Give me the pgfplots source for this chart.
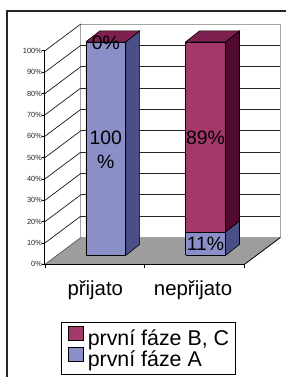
\documentclass[border=0pt]{standalone}
\usepackage{fontspec}
\setmainfont{Liberation Sans}
\usepackage{pgfplots}
\pgfplotsset{compat=1.18}
\definecolor{blueF}{RGB}{138,143,199}
\definecolor{blueS}{RGB}{74,79,135}
\definecolor{marF}{RGB}{165,56,107}
\definecolor{marS}{RGB}{80,10,48}
\definecolor{marT}{RGB}{125,32,80}
\definecolor{floorC}{RGB}{157,157,157}
\definecolor{wallC}{RGB}{165,165,165}
\begin{document}
\begin{tikzpicture}
\begin{axis}[width=287bp,height=378bp,scale only axis,
  xmin=0,xmax=287,ymin=-57.01,ymax=119.63,hide axis,clip=false,
  unbounded coords=jump,
  legend cell align=left,
  legend style={at={(axis cs:61,-55.9)}, anchor=south west, draw=black, line width=0.8bp,
    fill=white, inner xsep=6.5bp, inner ysep=3.5bp, row sep=-2.5bp, column sep=4.5bp,
    font=\fontsize{21.5}{23}\selectfont,
    nodes={inner sep=0pt, text height=14.5bp, text depth=4bp}},
  legend image code/.code={\draw[#1, draw=black, line width=0.6bp] (0bp,0bp) rectangle (15bp,14bp);}]
\fill[white] (rel axis cs:0,0) rectangle (rel axis cs:1,1);
\draw[line width=1.7bp, black!85] (axis cs:6.7,-57.01) -- (axis cs:6.7,114.6) -- (axis cs:287,114.6);
% back wall
\addplot[forget plot, fill=white, draw=wallC, line width=0.8bp] coordinates {(81,8.4)(281,8.4)(281,108.4)(81,108.4)(81,8.4)};
% back wall gridlines
\addplot[forget plot, black!85, line width=0.7bp] coordinates {
(81,18.4)(281,18.4)(0,nan)(81,28.4)(281,28.4)(0,nan)(81,38.4)(281,38.4)(0,nan)
(81,48.4)(281,48.4)(0,nan)(81,58.4)(281,58.4)(0,nan)(81,68.4)(281,68.4)(0,nan)
(81,78.4)(281,78.4)(0,nan)(81,88.4)(281,88.4)(0,nan)(81,98.4)(281,98.4)};
% left wall lines
\addplot[forget plot, black!90, line width=0.7bp] coordinates {
(45,5.8)(81,18.4)(0,nan)(45,15.8)(81,28.4)(0,nan)(45,25.8)(81,38.4)(0,nan)
(45,35.8)(81,48.4)(0,nan)(45,45.8)(81,58.4)(0,nan)(45,55.8)(81,68.4)(0,nan)
(45,65.8)(81,78.4)(0,nan)(45,75.8)(81,88.4)(0,nan)(45,85.8)(81,98.4)(0,nan)
(45,95.8)(81,108.4)};
% floor
\addplot[forget plot, fill=floorC, draw=none] coordinates {(45,-4.2)(245,-4.2)(281,8.4)(81,8.4)(45,-4.2)};
\addplot[forget plot, wallC, line width=0.8bp] coordinates {(81,8.4)(281,8.4)};
\addplot[forget plot, black!70, line width=0.6bp] coordinates {(45,-4.2)(81,8.4)};
\addplot[forget plot, black, line width=0.8bp] coordinates {(245,-4.2)(281,8.4)};
% front axes
\addplot[forget plot, black, line width=0.9bp] coordinates {(45,95.8)(45,-4.2)(245,-4.2)};
\addplot[forget plot, black, line width=0.8bp] coordinates {
(42.5,-4.2)(45,-4.2)(0,nan)(42.5,5.8)(45,5.8)(0,nan)(42.5,15.8)(45,15.8)(0,nan)
(42.5,25.8)(45,25.8)(0,nan)(42.5,35.8)(45,35.8)(0,nan)(42.5,45.8)(45,45.8)(0,nan)
(42.5,55.8)(45,55.8)(0,nan)(42.5,65.8)(45,65.8)(0,nan)(42.5,75.8)(45,75.8)(0,nan)
(42.5,85.8)(45,85.8)(0,nan)(42.5,95.8)(45,95.8)(0,nan)
(45,-4.2)(45,-6.1)(0,nan)(145,-4.2)(145,-6.1)(0,nan)(245,-4.2)(245,-6.1)};
% bars: side and top faces
\addplot[forget plot, fill=blueS, draw=black, line width=0.6bp] coordinates {(126,0)(140,5.14)(140,105.14)(126,100)(126,0)};
\addplot[forget plot, fill=marT, draw=black, line width=0.6bp] coordinates {(86,100)(126,100)(140,105.14)(100,105.14)(86,100)};
\addplot[forget plot, fill=blueS, draw=black, line width=0.6bp] coordinates {(226,0)(240,5.14)(240,16.14)(226,11)(226,0)};
\addplot[forget plot, fill=marS, draw=black, line width=0.6bp] coordinates {(226,11)(240,16.14)(240,105.14)(226,100)(226,11)};
\addplot[forget plot, fill=marT, draw=black, line width=0.6bp] coordinates {(186,100)(226,100)(240,105.14)(200,105.14)(186,100)};
% bars: front faces (přijato: A 100 %, B,C 0 %; nepřijato: A 11 %, B,C 89 %)
\addplot[forget plot, fill=blueF, draw=black, line width=0.6bp] coordinates {(86,0)(126,0)(126,100)(86,100)(86,0)};
\addplot[forget plot, fill=blueF, draw=black, line width=0.6bp] coordinates {(186,0)(226,0)(226,11)(186,11)(186,0)};
\addplot[forget plot, fill=marF, draw=black, line width=0.6bp] coordinates {(186,11)(226,11)(226,100)(186,100)(186,11)};
% tick labels
\begin{scope}[every node/.style={anchor=east, inner sep=0pt, font=\fontsize{7.5}{9}\selectfont, text=black!85}]
\node at (axis cs:42.3,-4.2) {0\%};
\node at (axis cs:42.3,5.8) {10\%};
\node at (axis cs:42.3,15.8) {20\%};
\node at (axis cs:42.3,25.8) {30\%};
\node at (axis cs:42.3,35.8) {40\%};
\node at (axis cs:42.3,45.8) {50\%};
\node at (axis cs:42.3,55.8) {60\%};
\node at (axis cs:42.3,65.8) {70\%};
\node at (axis cs:42.3,75.8) {80\%};
\node at (axis cs:42.3,85.8) {90\%};
\node at (axis cs:42.3,95.8) {100\%};
\end{scope}
\node[anchor=base, font=\fontsize{20.5}{24}\selectfont] at (axis cs:95.5,-18.7) {přijato};
\node[anchor=base, font=\fontsize{20.5}{24}\selectfont] at (axis cs:193.5,-18.7) {nepřijato};
\begin{scope}[every node/.style={font=\fontsize{19.5}{24}\selectfont, inner sep=0pt}]
\node at (axis cs:106,99.5) {0\%};
\node[align=center] at (axis cs:106,49.5) {100\\\%};
\node at (axis cs:206,55.1) {89\%};
\node at (axis cs:206,5.2) {11\%};
\end{scope}
\addlegendimage{fill=marF}
\addlegendentry{první fáze B, C}
\addlegendimage{fill=blueF}
\addlegendentry{první fáze A}
\end{axis}
\end{tikzpicture}
\end{document}
